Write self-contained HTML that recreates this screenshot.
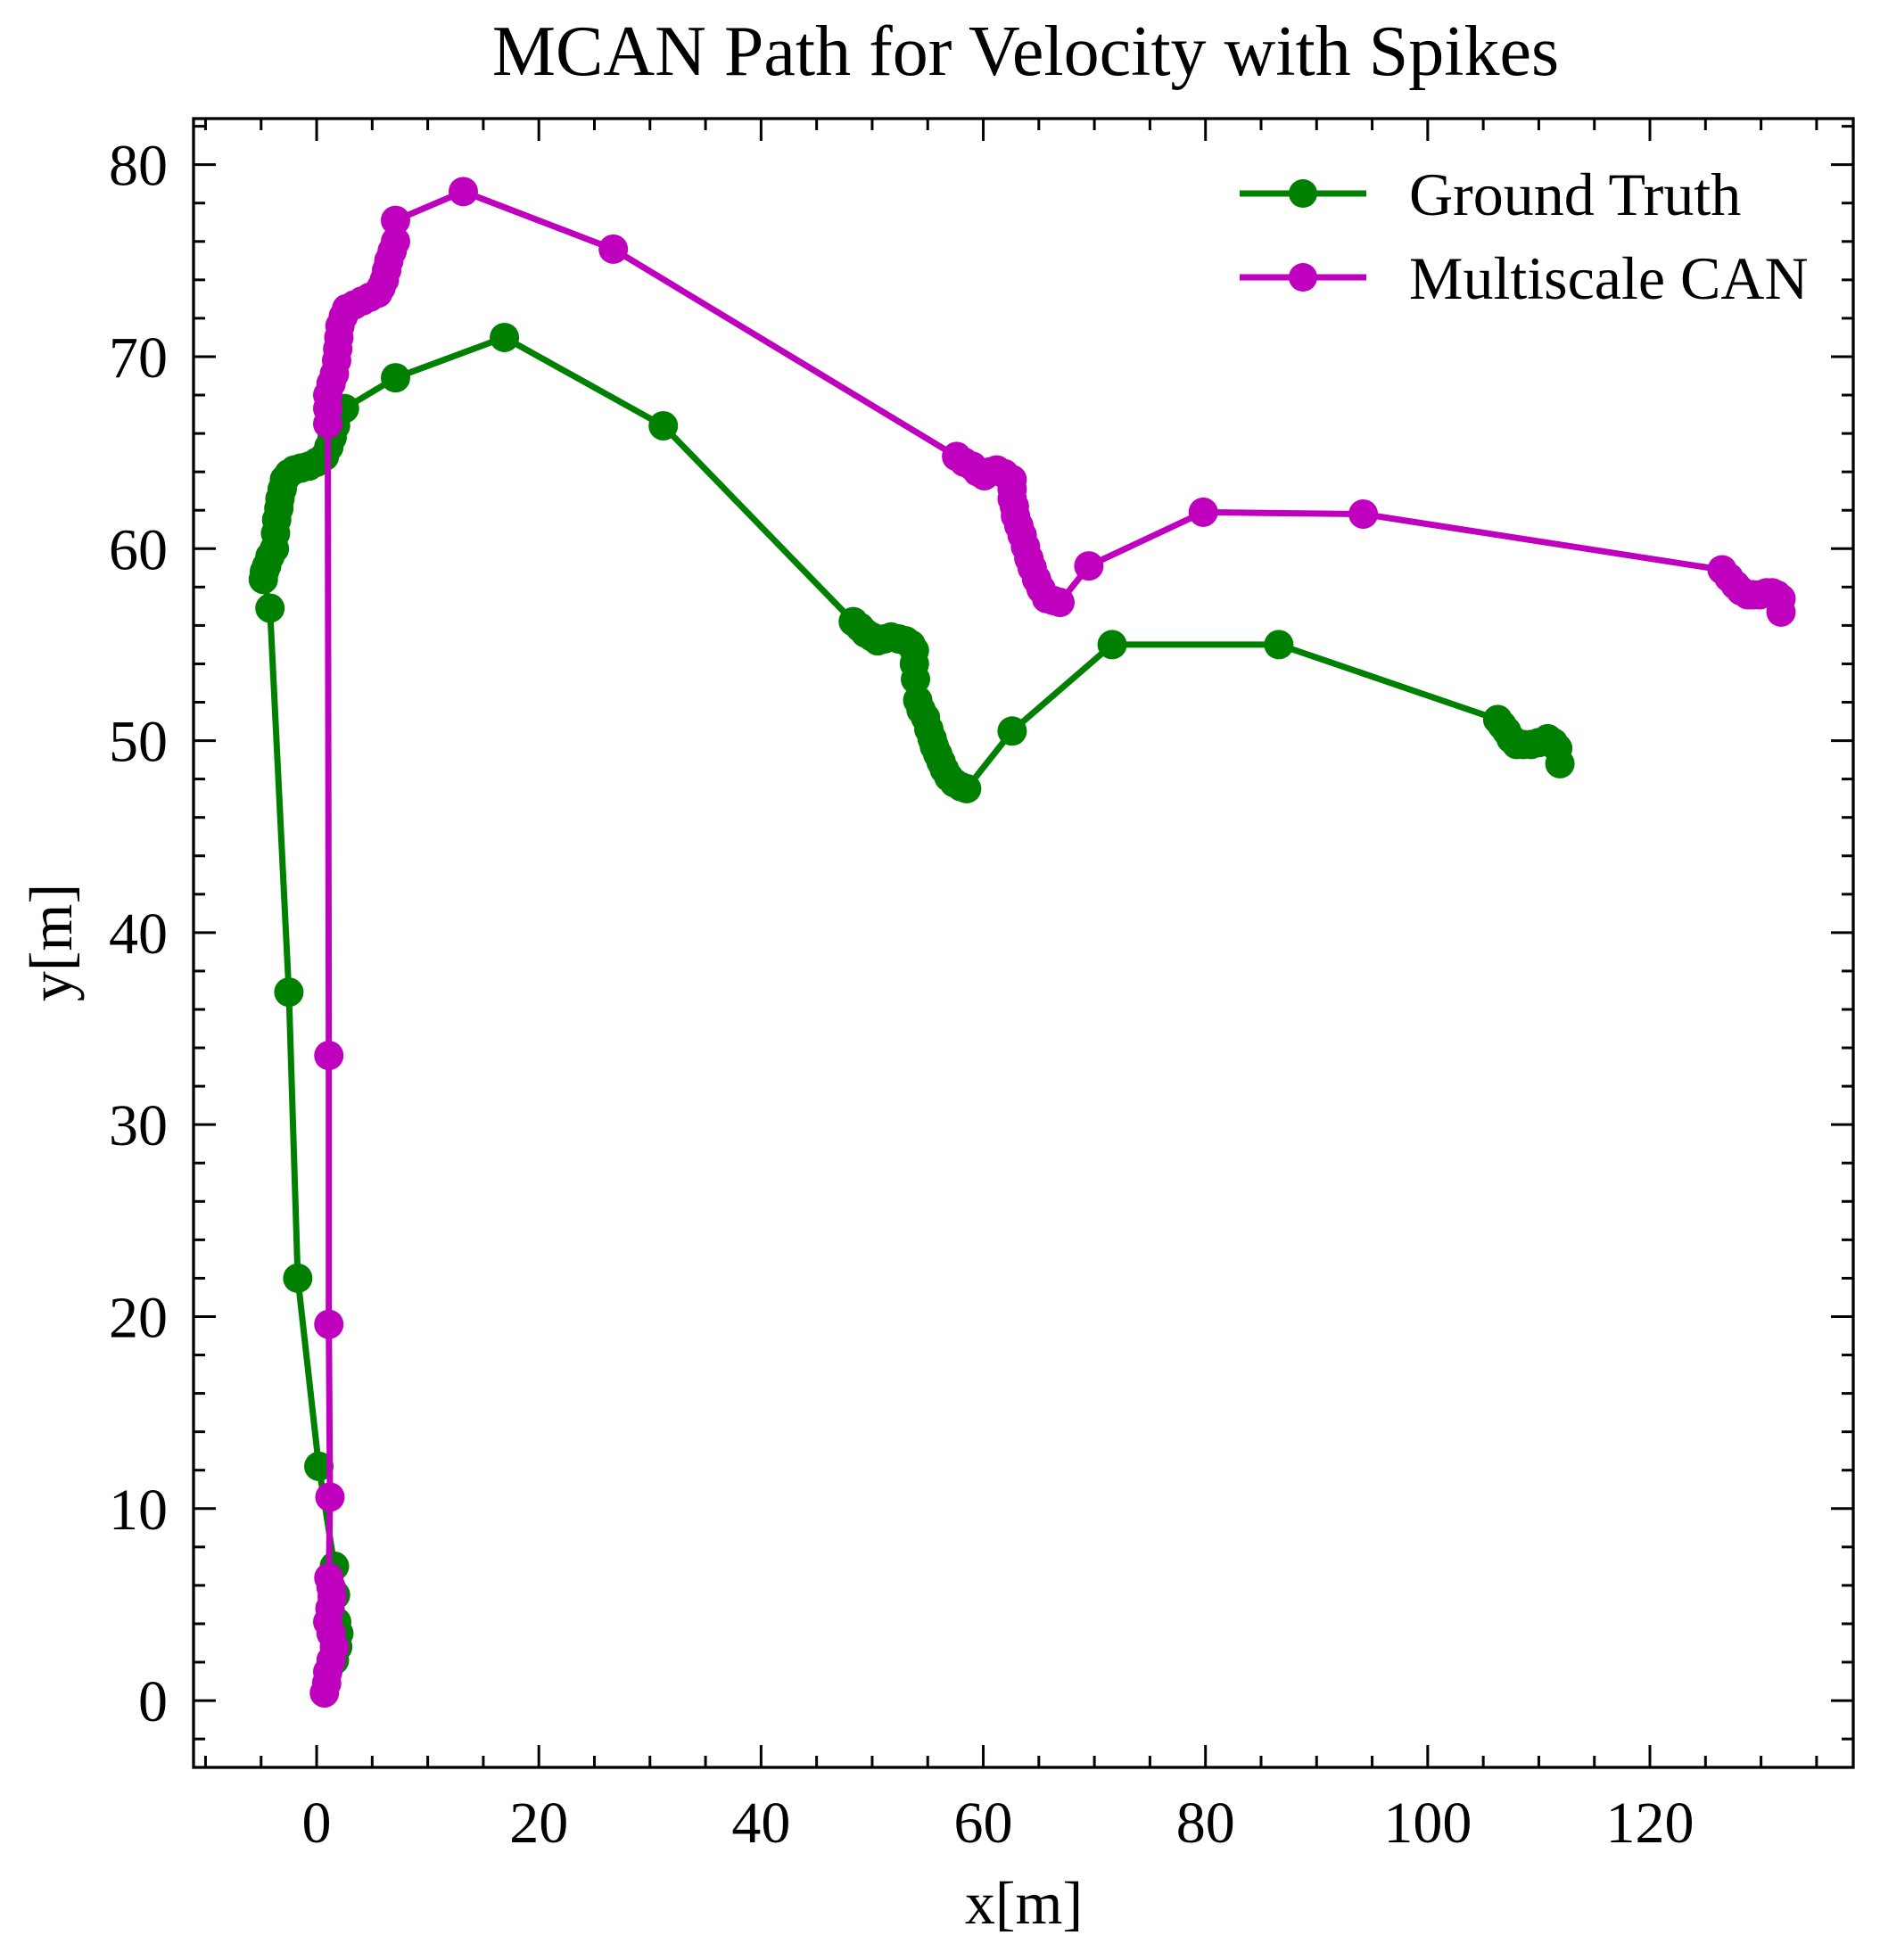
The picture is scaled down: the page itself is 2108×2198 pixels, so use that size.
<!DOCTYPE html>
<html><head><meta charset="utf-8"><style>
html,body{margin:0;padding:0;background:#fff}
svg text{font-family:"Liberation Serif",serif;fill:#000}
</style></head><body>
<svg id="chart" width="2108" height="2193" viewBox="0 0 2108 2193" xmlns="http://www.w3.org/2000/svg">
<rect width="2108" height="2193" fill="#fff"/>
<text x="1150" y="84" font-size="80" text-anchor="middle">MCAN Path for Velocity with Spikes</text>
<text x="1148" y="2157" font-size="68" text-anchor="middle">x[m]</text>
<text transform="translate(80,1057) rotate(-90)" font-size="68" text-anchor="middle">y[m]</text>
<g id="plot"></g>
<g id="axes"></g>
<g id="legend">
 <g>
  <line x1="1390" y1="217" x2="1532" y2="217" stroke="#008000" stroke-width="7"/>
  <circle cx="1461" cy="217" r="16" fill="#008000"/>
  <text x="1580" y="241" font-size="68">Ground Truth</text>
 </g>
 <g>
  <line x1="1390" y1="311" x2="1532" y2="311" stroke="#bf00bf" stroke-width="7"/>
  <circle cx="1461" cy="311" r="16" fill="#bf00bf"/>
  <text x="1580" y="335" font-size="68">Multiscale CAN</text>
 </g>
</g>
</svg>
<script>
const gtX=[1.6,1.9,2.0,1.8,1.7,1.6,0.2,-1.7,-2.5,-4.2,-4.8,-4.7,-4.5,-4.2,-3.8,-3.7,-3.6,-3.4,-3.3,-3.1,-2.9,-2.5,-2.0,-1.4,-0.7,0.0,0.7,1.1,1.4,1.7,1.9,2.5,7.1,16.9,31.2,48.3,48.9,49.4,50.0,50.5,51.1,51.7,52.4,53.0,53.5,53.8,53.8,53.9,54.1,54.4,54.8,55.1,55.4,55.6,55.9,56.2,56.5,56.9,57.4,58.0,58.5,62.6,71.6,86.6,106.3,106.7,107.1,107.5,108.0,108.6,109.3,110.0,110.8,111.3,111.7,111.9];
const gtY=[2.1,2.8,3.5,4.1,5.5,7.0,12.2,22.0,36.9,56.9,58.4,58.8,59.1,59.6,60.0,60.8,61.5,62.1,62.6,63.1,63.6,63.9,64.1,64.2,64.3,64.5,64.8,65.3,65.8,66.4,67.0,67.3,68.9,71.0,66.4,56.2,55.9,55.6,55.4,55.2,55.3,55.4,55.3,55.2,55.0,54.7,54.0,53.2,52.1,51.6,51.2,50.6,50.1,49.7,49.3,48.9,48.5,48.1,47.8,47.6,47.5,50.5,55.0,55.0,51.1,50.8,50.5,50.1,49.8,49.8,49.8,49.9,50.1,49.9,49.6,48.8];
const mcX=[0.7,0.9,1.0,1.3,1.6,1.3,1.0,1.2,1.4,1.3,1.1,1.2,1.1,1.1,1.0,1.0,1.0,1.3,1.6,1.8,1.9,2.0,2.1,2.4,2.7,3.4,4.1,4.8,5.5,5.8,6.1,6.3,6.5,6.8,7.1,7.1,13.2,26.7,57.6,58.3,59.0,59.5,60.1,60.6,61.2,61.9,62.6,62.6,62.6,62.8,62.9,63.2,63.5,63.8,64.1,64.4,64.8,65.2,65.7,66.3,66.9,69.5,79.8,94.2,126.5,127.1,127.7,128.2,128.8,129.3,129.9,130.5,131.0,131.4,131.8,131.8];
const mcY=[0.4,0.9,1.5,2.1,2.8,3.5,4.1,4.8,5.4,5.9,6.4,10.6,19.6,33.6,66.5,67.3,68.0,68.6,69.1,69.8,70.4,71.0,71.6,72.1,72.5,72.7,72.9,73.1,73.3,73.6,74.0,74.5,75.0,75.5,76.0,77.1,78.6,75.6,64.8,64.5,64.3,64.0,63.8,64.0,64.1,63.9,63.6,63.1,62.6,62.2,61.7,61.2,60.7,60.1,59.5,59.0,58.4,57.9,57.4,57.3,57.2,59.1,61.9,61.8,58.9,58.5,58.1,57.8,57.6,57.6,57.6,57.7,57.7,57.6,57.4,56.7];
const xTicks=[0,20,40,60,80,100,120];
const yTicks=[0,10,20,30,40,50,60,70,80];
const xTickLabels=["0","20","40","60","80","100","120"];
const yTickLabels=["0","10","20","30","40","50","60","70","80"];

const L=217,R=2078,T=133,B=1982;
const xmin=-11.08,xmax=138.3,ymin=-3.48,ymax=82.4;
function sx(v){return L+(v-xmin)/(xmax-xmin)*(R-L);}
function sy(v){return B-(v-ymin)/(ymax-ymin)*(B-T);}
const NS="http://www.w3.org/2000/svg";
function mk(tag,attrs,parent){const e=document.createElementNS(NS,tag);for(const k in attrs)e.setAttribute(k,attrs[k]);parent.appendChild(e);return e;}
const plot=document.getElementById('plot');
const axes=document.getElementById('axes');

function series(xs,ys,color,name){
  const g=mk('g',{},plot);
  
  
  const pts=xs.map((x,i)=>sx(x).toFixed(1)+','+sy(ys[i]).toFixed(1)).join(' ');
  const pl=mk('polyline',{points:pts,fill:'none',stroke:color,'stroke-width':7,'stroke-linejoin':'round'},g);
  
  
  xs.forEach((x,i)=>{
    const c=mk('circle',{cx:sx(x),cy:sy(ys[i]),r:16.5,fill:color},g);
    
    
  });
}
series(gtX,gtY,'#008000','ground-truth-series');
series(mcX,mcY,'#bf00bf','multiscale-can-series');

const fr=mk('rect',{x:L,y:T,width:R-L,height:B-T,fill:'none',stroke:'#000','stroke-width':3.3},axes);


for(let v=-10;v<=135;v+=5){
  const major=v%20===0;const len=major?25:13;const X=sx(v);
  mk('line',{x1:X,y1:B,x2:X,y2:B-len,stroke:'#000','stroke-width':3},axes);
  mk('line',{x1:X,y1:T,x2:X,y2:T+len,stroke:'#000','stroke-width':3},axes);
}
for(let v=-2;v<=82;v+=2){
  const major=v%10===0;const len=major?25:13;const Y=sy(v);
  mk('line',{x1:L,y1:Y,x2:L+len,y2:Y,stroke:'#000','stroke-width':3},axes);
  mk('line',{x1:R,y1:Y,x2:R-len,y2:Y,stroke:'#000','stroke-width':3},axes);
}
xTicks.forEach((v,i)=>{
  const t=mk('text',{x:sx(v),y:2066,'font-size':66,'text-anchor':'middle'},axes);
  t.textContent=xTickLabels[i];
  
  
});
yTicks.forEach((v,i)=>{
  const t=mk('text',{x:188,y:sy(v)+23,'font-size':66,'text-anchor':'end'},axes);
  t.textContent=yTickLabels[i];
  
  
});
</script>
</body></html>
